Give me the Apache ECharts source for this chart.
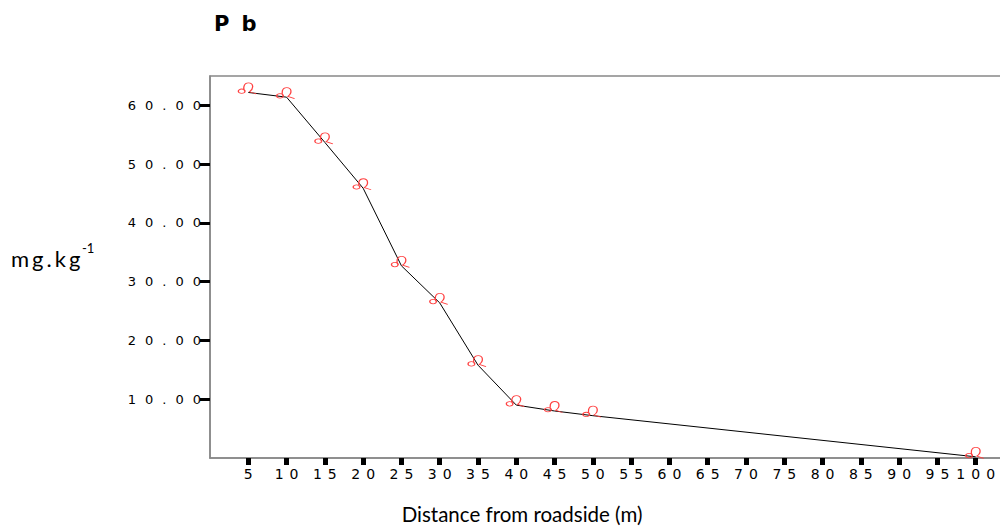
<!DOCTYPE html>
<html><head><meta charset="utf-8">
<script src="https://cdn.jsdelivr.net/npm/echarts@6/dist/echarts.min.js"></script>
<style>
html,body{margin:0;padding:0;background:#fff;}
#chart{width:1000px;height:532px;}
#chart text[style*="DejaVu"][style*="13px"]{letter-spacing:9px;}
#chart text[style*="DejaVu"][style*="14px"]{letter-spacing:6px;}
#chart text[style*="DejaVu"][style*="21px"]{letter-spacing:12px;}
#chart text[style*="Lato"][style*="22px"]{letter-spacing:3px;}
</style></head><body><div id="chart"></div>
<script>
// ---- data ----
const distances = [5, 10, 15, 20, 25, 30, 35, 40, 45, 50, 100];
const pbValues  = [62.2, 61.4, 53.7, 45.9, 32.7, 26.4, 15.8, 9.0, 8.0, 7.2, 0.2];
const xTicks = [5, 10, 15, 20, 25, 30, 35, 40, 45, 50, 55, 60, 65, 70, 75, 80, 85, 90, 95, 100];
const yTicks = [10, 20, 30, 40, 50, 60];
const titleText = 'Pb';
const yTitle = 'mg.kg';
const ySup = '-1';
const xTitle = 'Distance from roadside (m)';

const markerPath = 'path://M0.5,8.5 A3.5,2 0 1,0 7.5,8.5 A3.5,2 0 1,0 0.5,8.5 Z M7.5,9 C5,6 6,1 11,1 C16,1 17,6 12,9 L19,11';

const chart = echarts.init(document.getElementById('chart'), null, {renderer: 'svg'});
chart.setOption({
  animation: false,
  backgroundColor: '#fff',
  title: {
    text: titleText, left: 209, top: 8,
    textStyle: {fontFamily: 'DejaVu Sans', fontWeight: 'bold', fontSize: 21, color: '#000'}
  },
  grid: {left: 210, top: 76, width: 804, height: 382, outerBoundsMode: 'none', containLabel: false,
    show: true, borderColor: '#888', borderWidth: 1.5, backgroundColor: '#fff'},
  xAxis: {
    type: 'value', min: 0, max: 105, interval: 5,
    axisLine: {lineStyle: {color: '#888', width: 1.5}},
    axisTick: {customValues: xTicks, length: 7, lineStyle: {color: '#000', width: 5}},
    axisLabel: {customValues: xTicks, fontFamily: 'DejaVu Sans', fontSize: 14, color: '#000', margin: 9,
      padding: [0, 0, 0, 6], hideOverlap: false, formatter: v => xTicks.includes(v) ? String(v) : ''},
    splitLine: {show: false}
  },
  yAxis: {
    type: 'value', min: 0, max: 65, interval: 10,
    axisLine: {show: true, lineStyle: {color: '#888', width: 1.5}},
    axisTick: {show: true, customValues: yTicks, length: 10, lineStyle: {color: '#000', width: 3}},
    axisLabel: {customValues: yTicks, fontFamily: 'DejaVu Sans', fontSize: 13, color: '#000', margin: 0,
      formatter: v => yTicks.includes(v) ? v.toFixed(2) : ''},
    splitLine: {show: false}
  },
  graphic: [
    {type: 'text', x: 11, y: 258, style: {text: yTitle, fontFamily: 'Lato', fontSize: 22, fill: '#000', align: 'left', verticalAlign: 'middle'}},
    {type: 'text', x: 82, y: 248, style: {text: ySup, fontFamily: 'Lato', fontSize: 13, fill: '#000', align: 'left', verticalAlign: 'middle'}},
    {type: 'text', x: 522, y: 514, style: {text: xTitle, fontFamily: 'Lato', fontSize: 20.5, fill: '#000', align: 'center', verticalAlign: 'middle'}}
  ],
  series: [{
    type: 'line',
    data: distances.map((d, i) => [d, pbValues[i]]),
    symbol: markerPath, symbolSize: [18, 11], symbolOffset: [-1, -4],
    showAllSymbol: true,
    lineStyle: {color: '#000', width: 1},
    itemStyle: {color: 'rgba(0,0,0,0)', borderColor: '#ff4040', borderWidth: 1},
    emphasis: {disabled: true}
  }]
});
</script></body></html>
